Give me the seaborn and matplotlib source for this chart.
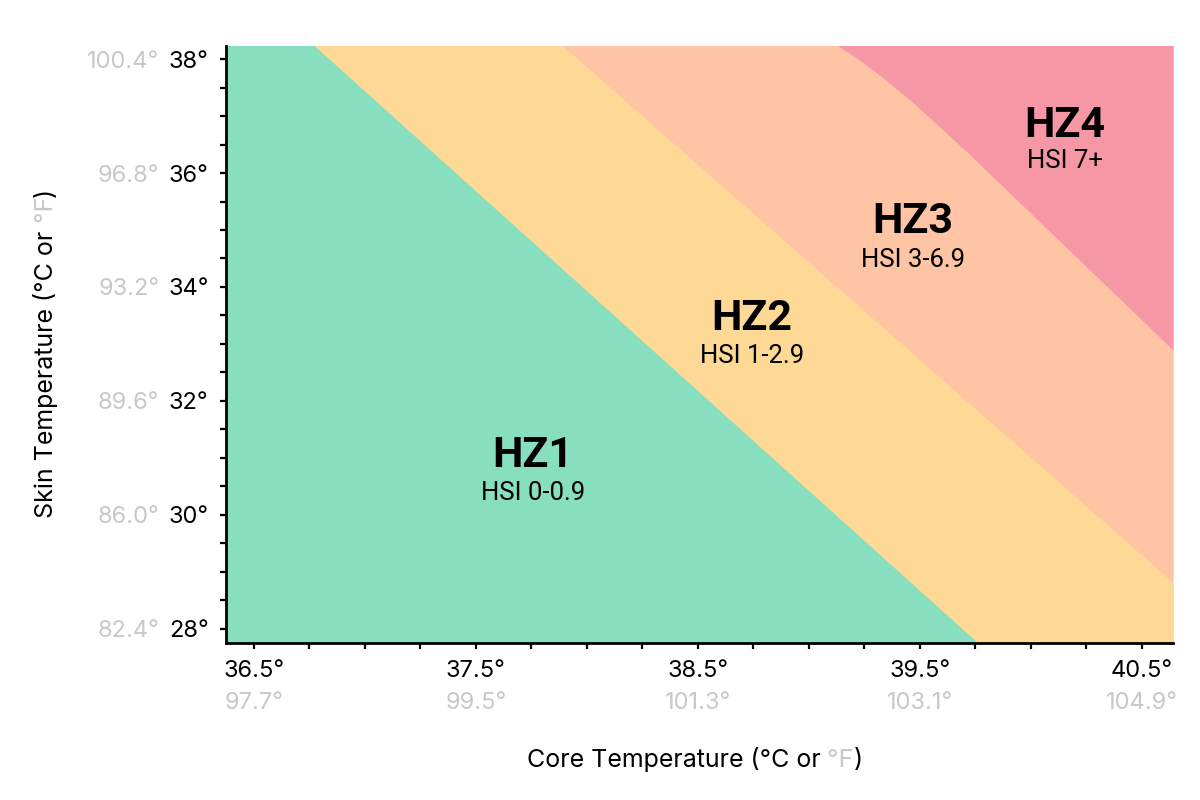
import matplotlib.pyplot as plt
from matplotlib.ticker import MultipleLocator
import seaborn as sns

# Axis ticks: Celsius values with their Fahrenheit equivalents
core_ticks = [36.5, 37.5, 38.5, 39.5, 40.5]
core_f = ["97.7°", "99.5°", "101.3°", "103.1°", "104.9°"]
skin_ticks = [28, 30, 32, 34, 36, 38]
skin_f = ["82.4°", "86.0°", "89.6°", "93.2°", "96.8°", "100.4°"]

# Zone boundaries, as (core, skin) points
hz12_core = [36.769, 39.762]
hz12_skin = [38.25, 27.75]
hz23_core = [37.886, 40.95]
hz23_skin = [38.25, 27.75]
hz34_core = [39.125, 39.230, 39.342, 39.477, 39.703, 40.640]
hz34_skin = [38.25, 37.982, 37.649, 37.211, 36.404, 32.895]

zone_names = ["HZ1", "HZ2", "HZ3", "HZ4"]
zone_hsi = ["HSI 0-0.9", "HSI 1-2.9", "HSI 3-6.9", "HSI 7+"]
zone_colors = ["#88dfbf", "#fed995", "#fec4a4", "#f697a5"]

# where the zone labels sit (core, skin of the baselines)
label_core = [37.757, 38.743, 39.468, 40.153]
label_skin = [30.842, 33.246, 34.947, 36.632]
hsi_skin = [30.263, 32.667, 34.351, 36.088]

xlim = (36.375, 40.64)
ylim = (27.75, 38.23)
gray = "#c8c8c8"

sns.set_theme(style="ticks")
plt.rcParams["font.family"] = ["Roboto", "DejaVu Sans"]
tick_font = ["Inter", "DejaVu Sans"]

fig = plt.figure(figsize=(12, 8), dpi=100)
ax = fig.add_axes([0.1883, 0.19625, 0.7892, 0.74625])

# zones: green background, then each hotter zone laid over to the right of its boundary
ax.set_facecolor(zone_colors[0])
bounds = [(hz12_core, hz12_skin), (hz23_core, hz23_skin), (hz34_core, hz34_skin)]
for (bc, bs), col in zip(bounds, zone_colors[1:]):
    ax.fill_betweenx(bs, bc, xlim[1], color=col, linewidth=0)

for name, hsi, cx, cy, hy in zip(zone_names, zone_hsi, label_core, label_skin, hsi_skin):
    ax.text(cx, cy, name, ha="center", va="baseline", fontsize=31,
            fontweight="bold", color="black")
    ax.text(cx, hy, hsi, ha="center", va="baseline", fontsize=18.5, color="black")

ax.set_xlim(*xlim)
ax.set_ylim(*ylim)

# Celsius ticks
ax.set_xticks(core_ticks, labels=[f"{v}°" for v in core_ticks])
ax.set_yticks(skin_ticks, labels=[f"{v}°" for v in skin_ticks])
ax.xaxis.set_minor_locator(MultipleLocator(0.25))
ax.yaxis.set_minor_locator(MultipleLocator(0.5))
ax.tick_params(which="both", direction="out", length=4.5, width=1.6, color="black")
ax.tick_params(axis="both", labelsize=17, labelcolor="black", pad=8)
for lab in ax.get_xticklabels() + ax.get_yticklabels():
    lab.set_family(tick_font)
ax.grid(False)

sns.despine(ax=ax)
for side in ["left", "bottom"]:
    ax.spines[side].set_linewidth(2)
    ax.spines[side].set_color("black")

# Fahrenheit ticks in gray
secx = ax.secondary_xaxis("bottom")
secx.set_xticks(core_ticks, labels=core_f)
secx.tick_params(which="both", length=0, pad=35, labelsize=17, labelcolor=gray)
secx.spines["bottom"].set_visible(False)

secy = ax.secondary_yaxis("left")
secy.set_yticks(skin_ticks, labels=skin_f)
secy.tick_params(which="both", length=0, pad=48, labelsize=17, labelcolor=gray)
secy.spines["left"].set_visible(False)

for lab in secx.get_xticklabels() + secy.get_yticklabels():
    lab.set_family(tick_font)

# axis titles with the °F part in gray
lab_kw = dict(fontsize=18, family=["Inter", "DejaVu Sans"])
xlab_parts = [("Core Temperature (°C or", "black"), (" °F", gray), (")", "black")]
ylab_parts = [("Skin Temperature (°C or", "black"), (" °F", gray), (")", "black")]


def colored_label(parts, x, y, vertical=False):
    full = "".join(t for t, _ in parts)
    if not vertical:
        prev = fig.text(x, y, full, ha="center", va="baseline", alpha=0, **lab_kw)
        for i, (t, c) in enumerate(parts):
            prev = ax.annotate(t, xy=(0 if i == 0 else 1, y),
                               xycoords=(prev, "figure fraction"),
                               ha="left", va="baseline", color=c,
                               annotation_clip=False, **lab_kw)
    else:
        prev = fig.text(x, y, full, rotation=90, ha="center", va="center",
                        alpha=0, **lab_kw)
        for i, (t, c) in enumerate(parts):
            prev = ax.annotate(t, xy=(x, 0 if i == 0 else 1),
                               xycoords=("figure fraction", prev),
                               rotation=90, rotation_mode="anchor",
                               ha="left", va="baseline", color=c,
                               annotation_clip=False, **lab_kw)


colored_label(xlab_parts, 0.579, 0.04125)
colored_label(ylab_parts, 0.0442, 0.559, vertical=True)

fig.savefig("out.png", dpi=100)
